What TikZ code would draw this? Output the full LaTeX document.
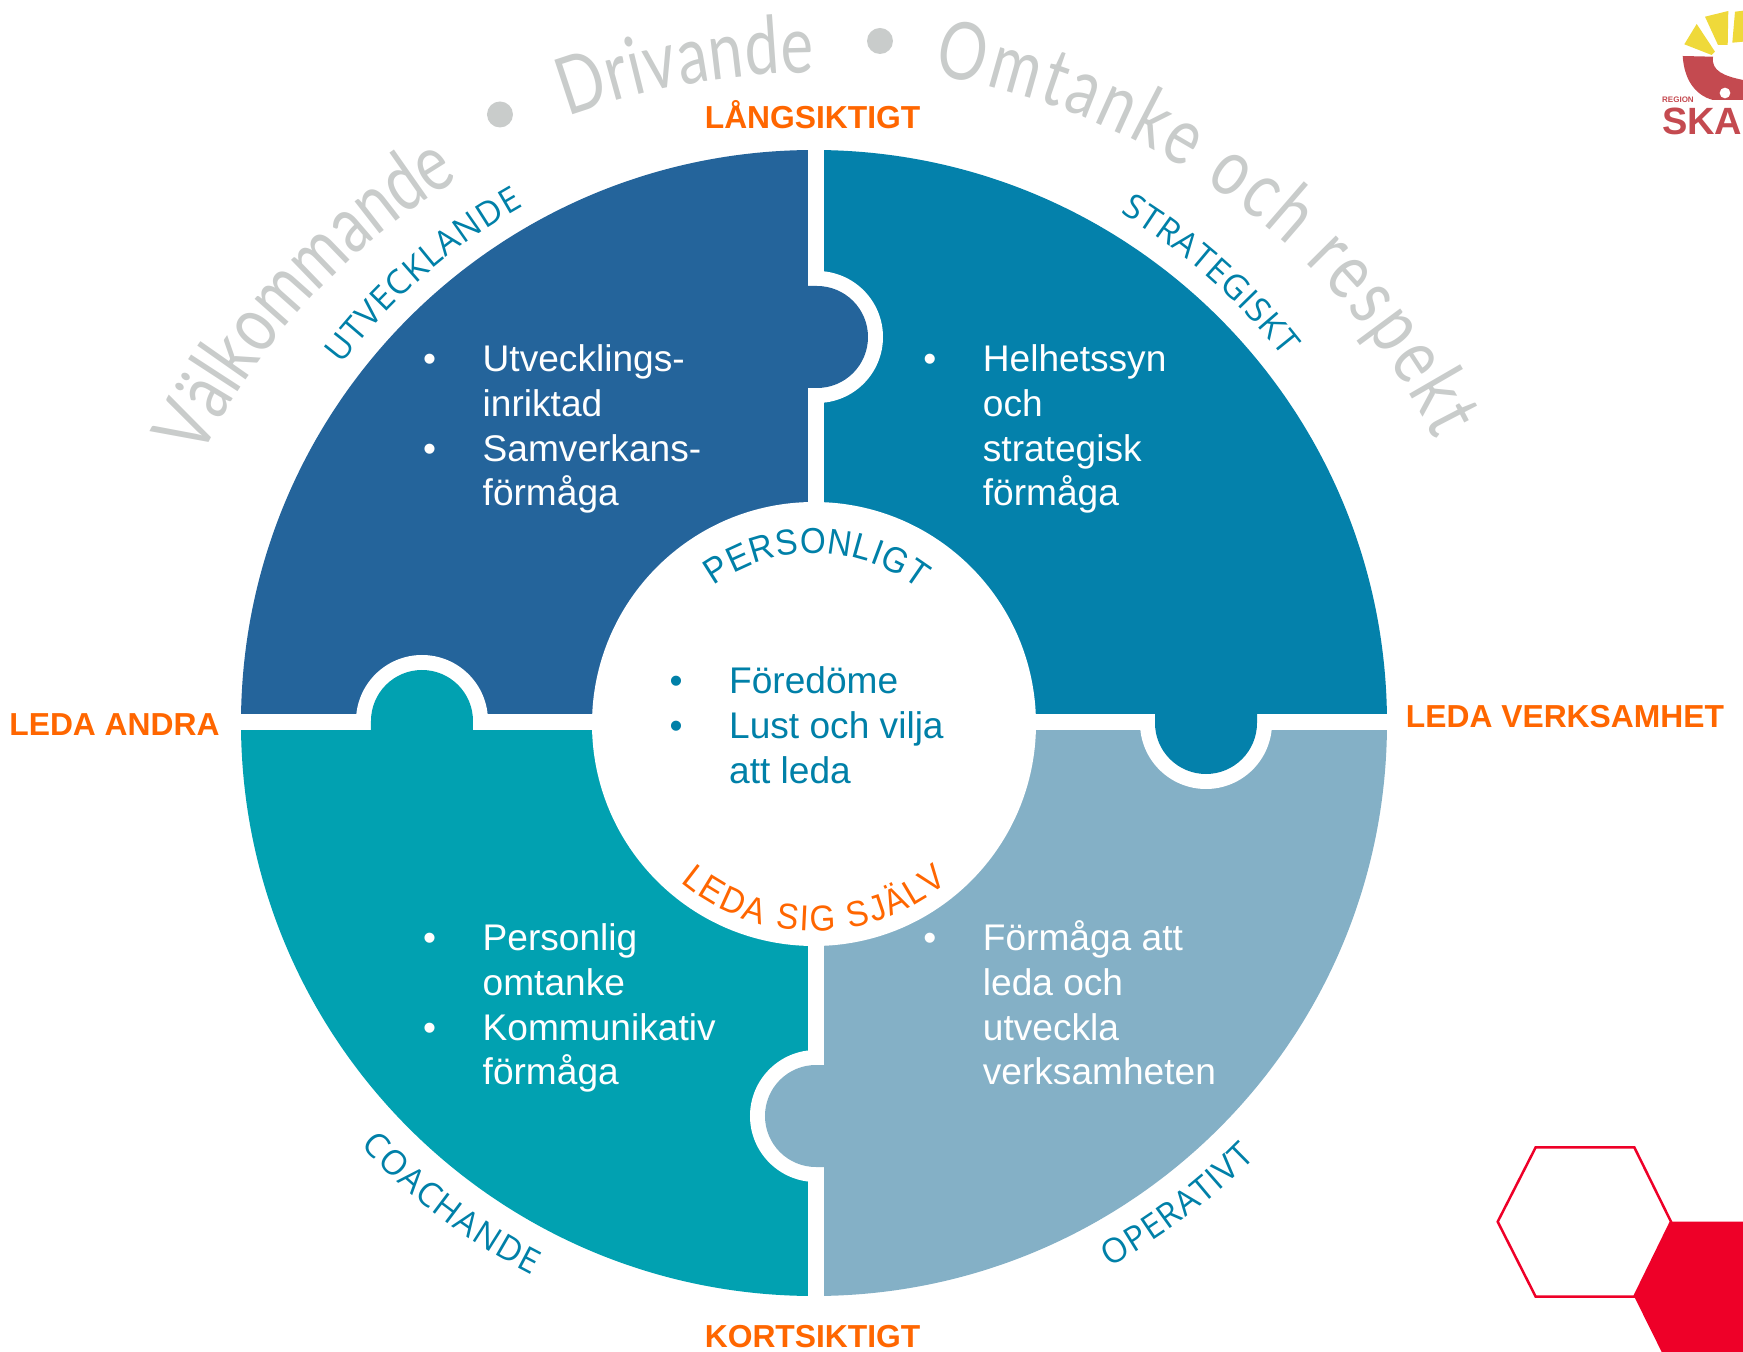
\documentclass[tikz,border=0pt]{standalone}
\usepackage{fontspec}
\usetikzlibrary{decorations.text}
\setmainfont{Liberation Sans}
\newfontfamily\archfont[FakeStretch=0.77]{Lato}
\newfontfamily\ringfont{Open Sans}
\newfontfamily\innerfont[FakeStretch=0.92]{Liberation Sans}
\definecolor{darkblue}{HTML}{24649B}
\definecolor{petrol}{HTML}{0481AB}
\definecolor{teal}{HTML}{01A1B1}
\definecolor{paleblue}{HTML}{84B0C6}
\definecolor{labelblue}{HTML}{0080A8}
\definecolor{labelorange}{HTML}{FF6600}
\definecolor{archgray}{HTML}{C9CCCB}
\definecolor{hexred}{HTML}{EE0028}
\definecolor{logored}{HTML}{C44A50}
\definecolor{logoyellow}{HTML}{EFD93A}
\newcommand{\archtxt}{\archfont\fontsize{80}{80}\selectfont\color{archgray}}
\newcommand{\ringtxt}{\ringfont\fontsize{34}{34}\selectfont\color{labelblue}}
\newcommand{\bluetxt}{\innerfont\fontsize{36}{36}\selectfont\color{labelblue}}
\newcommand{\orangetxt}{\innerfont\fontsize{36}{36}\selectfont\color{labelorange}}
\newcommand{\bul}{\strut\llap{\textbullet\hspace{46.5pt}}}
\newcommand{\puzzletab}[3]{\begin{scope}[shift={#2},rotate=#3]
    \fill[white] (-8,66) -- (0,66) arc (90:-90:66) -- (-8,-66) -- cycle;
    \fill[#1] (-12,51) -- (0,51) arc (90:-90:51) -- (-12,-51) -- cycle;
  \end{scope}}
\begin{document}
\begin{tikzpicture}[x=1pt,y=1pt,
    listtxt/.style={anchor=north west,inner sep=0pt,align=left,font=\fontsize{37.1}{44.8}\selectfont},
    sidetxt/.style={inner sep=0pt,text=labelorange,font=\fontsize{31.8}{36}\selectfont\bfseries},
    curved/.style={decorate,decoration={text along path,text={#1},text align=fit to path}}]
  \useasboundingbox (-814,-629) rectangle (929,723);
  \fill[petrol] (2,1) -- (90:573) arc (90:0:573) -- cycle;
  \fill[paleblue] (2,1) -- (0:573) arc (0:-90:573) -- cycle;
  \fill[teal] (2,1) -- (-90:573) arc (-90:-180:573) -- cycle;
  \fill[darkblue] (2,1) -- (180:573) arc (180:90:573) -- cycle;
  \fill[white] (-6,-590) rectangle (10,590);
  \fill[white] (-590,-7) rectangle (590,9);
  \puzzletab{darkblue}{(3,386)}{0}
  \puzzletab{petrol}{(392,0)}{-90}
  \puzzletab{teal}{(-392,2)}{90}
  \puzzletab{paleblue}{(2,-393)}{180}
  \fill[white] (0,-1) circle (222);

  \node[listtxt,text=white] (utv) at (-331.5,383) {\bul Utvecklings-\\inriktad\\\bul Samverkans-\\förmåga};
  \node[listtxt,text=white] (hel) at (168.7,383) {\bul Helhetssyn\\och\\strategisk\\förmåga};
  \node[listtxt,text=white] (per) at (-331.5,-196) {\bul Personlig\\omtanke\\\bul Kommunikativ\\förmåga};
  \node[listtxt,text=white] (for) at (168.7,-196) {\bul Förmåga att\\leda och\\utveckla\\verksamheten};
  \node[listtxt,text=labelblue] (fore) at (-85,60.8) {\bul Föredöme\\\bul Lust och vilja\\att leda};

  \node[sidetxt] (lang) at (-1.4,608) {LÅNGSIKTIGT};
  \node[sidetxt] (kort) at (-1.4,-614) {KORTSIKTIGT};
  \node[sidetxt] (andra) at (-699.5,-1.5) {LEDA ANDRA};
  \node[sidetxt] (verk) at (751,6) {LEDA VERKSAMHET};

  \path[curved={|\archtxt|Välkommande},shift={(10,-14)}] (155:688 and 658) arc[start angle=155,end angle=122,x radius=688,y radius=658];
  \path[curved={|\archtxt|Drivande},shift={(0,-8)}] (111:688 and 658) arc[start angle=111,end angle=90,x radius=688,y radius=658];
  \path[curved={|\archtxt|Omtanke och respekt}] (80:688 and 658) arc[start angle=80,end angle=25.5,x radius=688,y radius=658];
  \fill[archgray] (-314,608.5) circle (13);
  \fill[archgray] (66,682) circle (13);

  \path[curved={|\ringtxt|UTVECKLANDE}] (142.8:593) arc (142.8:119.3:593);
  \path[curved={|\ringtxt|STRATEGISKT}] (59:595) arc (59:38:595);
  \path[curved={|\ringtxt|COACHANDE}] (223:620) arc (223:243:620);
  \path[curved={|\ringtxt|OPERATIVT}] (-61.5:619) arc (-61.5:-44.5:619);
  \path[curved={|\bluetxt|PERSONLIGT}] (126:170) arc (126:52:170);
  \path[curved={|\orangetxt|LEDA SIG SJÄLV}] (230:208) arc (230:310:208);

  \draw[hexred,line width=2.5pt] (721.7,-424.3) -- (820.3,-424.3) -- (857,-498.7) -- (820.3,-573.7) -- (721.7,-573.7) -- (683.7,-498.7) -- cycle;
  \fill[hexred] (857,-498.7) -- (929,-498.7) -- (929,-629) -- (847.7,-629) -- (820.3,-573.7) -- cycle;

  \fill[logoyellow] (882.7,699) -- (901,671.3) -- (897.7,668) -- (870.3,678.7) -- cycle;
  \fill[logoyellow] (891,706.3) -- (914.3,712) -- (913.7,678) -- (904,678) -- cycle;
  \fill[logoyellow] (921,711.3) -- (929,712.3) -- (929,681.3) -- (918.3,680.3) -- cycle;
  \fill[logored,even odd rule] (868.7,667) -- (899,666.3) .. controls (897,652) and (910,647) .. (929,643) -- (929,623) -- (899,623) .. controls (880,628) and (870,645) .. cycle (911,630) circle (5.5);
  \node[inner sep=0pt,anchor=west,text=logored,font=\fontsize{8}{8}\selectfont\bfseries] (region) at (848,623) {REGION};
  \node[inner sep=0pt,anchor=west,text=logored,font=\fontsize{38}{38}\selectfont\bfseries] (ska) at (848,602) {SKA};
\end{tikzpicture}
\end{document}
